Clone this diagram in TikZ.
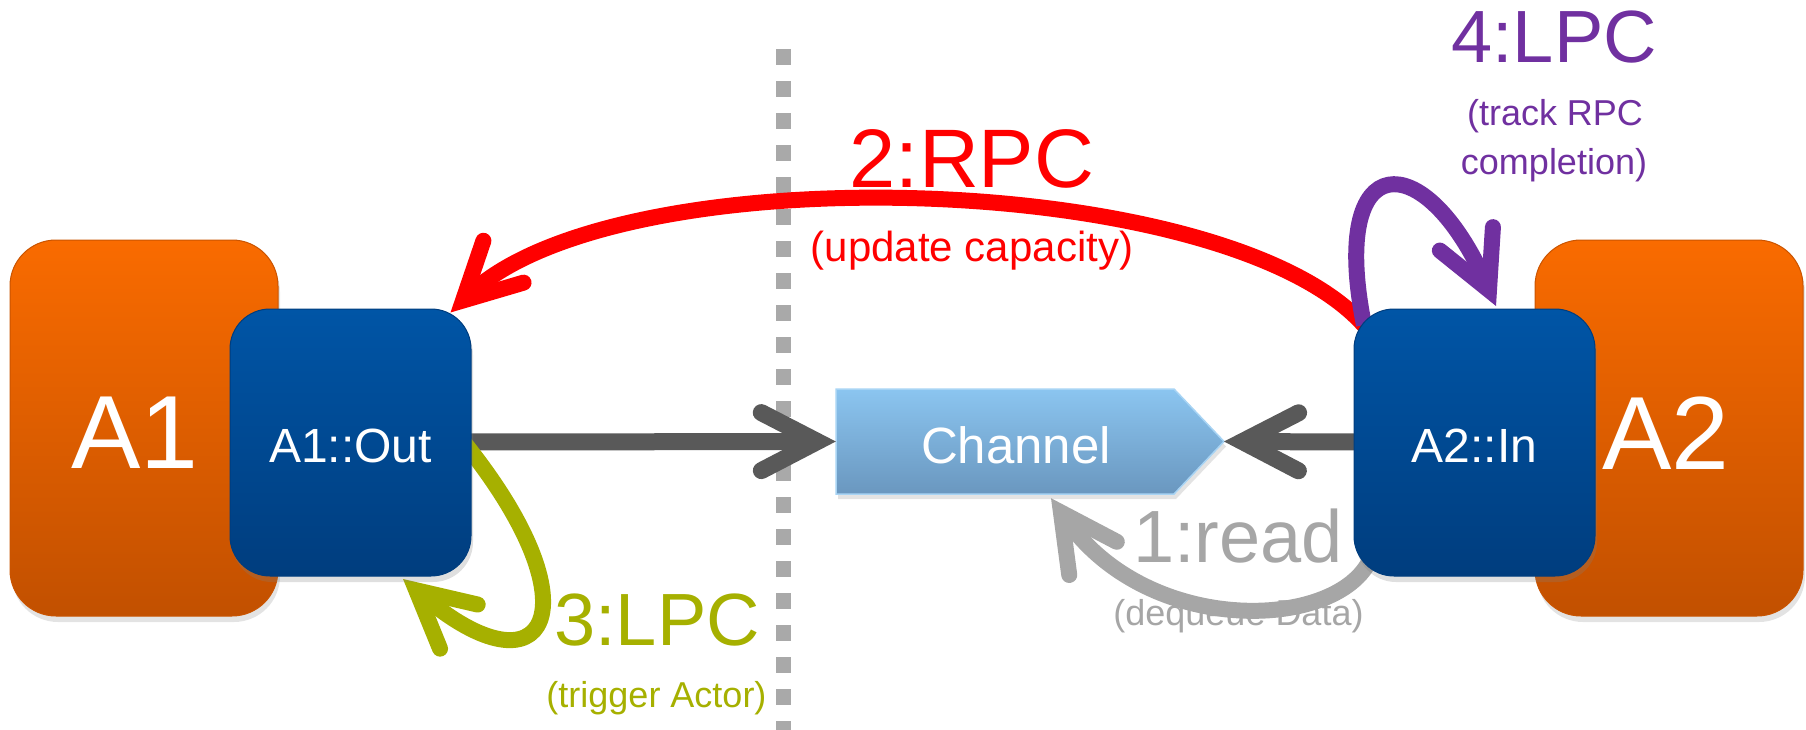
\documentclass[tikz,border=0pt]{standalone}
\usepackage{fontspec}
\setmainfont{Liberation Sans}
\usetikzlibrary{arrows.meta,shadows,calc}
\definecolor{orTop}{HTML}{F96B00}
\definecolor{orBot}{HTML}{C25000}
\definecolor{blTop}{HTML}{0055A6}
\definecolor{blBot}{HTML}{003D7E}
\definecolor{chTop}{HTML}{8BC5F0}
\definecolor{chBot}{HTML}{6A97BF}
\definecolor{chEdge}{HTML}{A8D4F4}
\definecolor{darkgr}{HTML}{595959}
\definecolor{lightgr}{HTML}{A6A6A6}
\definecolor{dashgr}{HTML}{A9A9A9}
\definecolor{rpcred}{HTML}{FF0000}
\definecolor{lpcpurple}{HTML}{7030A0}
\definecolor{lpcolive}{HTML}{A6B000}
\tikzset{
  barb/.tip={Straight Barb[length=56pt, width=58pt, line cap=round, line join=miter]},
  actorbox/.style={rectangle, rounded corners=46pt, minimum width=268pt, minimum height=376pt,
    inner sep=0pt, top color=orTop, bottom color=orBot, draw=orBot!85!orTop, line width=1pt,
    drop shadow={shadow xshift=2pt, shadow yshift=-6pt, opacity=0.22}},
  portbox/.style={rectangle, rounded corners=40pt, minimum width=241pt, minimum height=267pt,
    inner sep=0pt, top color=blTop, bottom color=blBot, draw=blBot, line width=1pt,
    drop shadow={shadow xshift=2pt, shadow yshift=-6pt, opacity=0.25}},
  bigtxt/.style={text=white, font=\fontsize{104}{104}\selectfont, inner sep=0pt, anchor=base},
  midtxt/.style={text=white, font=\fontsize{48}{48}\selectfont, inner sep=0pt, anchor=base},
  steptxt/.style={font=\fontsize{74}{74}\selectfont, inner sep=0pt, anchor=base},
  notetxt/.style={font=\fontsize{36}{36}\selectfont, inner sep=0pt, anchor=base},
  mainarrow/.style={draw=darkgr, line width=17pt, -{barb}},
  callarrow/.style={line width=16pt, -{barb}},
  dashline/.style={draw=dashgr, line width=15pt, dash pattern=on 16pt off 16pt},
}
\begin{document}
\begin{tikzpicture}[x=1pt,y=-1pt]
\useasboundingbox (0,0) rectangle (1806,730);
% actors
\node[actorbox] (A1) at (144,428) {};
\node[actorbox] (A2) at (1669,428) {};
% separator
\coordinate (sepTop) at (783,49);
\coordinate (sepBot) at (783,730);
\draw[dashline] (sepTop) -- (sepBot);
% channel body
\fill[top color=chTop, bottom color=chBot, draw=chEdge, line width=1.5pt,
      drop shadow={shadow xshift=2pt, shadow yshift=-5pt, opacity=0.22}]
  (836,389) -- (1174,389) -- (1224,441.5) -- (1174,494) -- (836,494) -- cycle;
\node[minimum width=338pt, minimum height=105pt, inner sep=0pt] (channel) at (1005,441.5) {};
\coordinate (chtip) at (1224,441.5);
% connector end points hidden under the port boxes
\coordinate (outE) at (468,442);
\coordinate (inW) at (1358,442);
\coordinate (oStart) at (462,440);
\coordinate (oEnd) at (403,579);
\coordinate (rStart) at (1372,335);
\coordinate (pStart) at (1364,325);
\coordinate (pEnd) at (1496,306);
\coordinate (gStart) at (1372,555);
\draw[mainarrow] (outE) -- (channel.west);
\draw[mainarrow] (inW) -- (chtip);
% olive loop 3:LPC
\draw[callarrow, draw=lpcolive] (oStart) .. controls (600,610) and (545,700) .. (oEnd);
\node[portbox] (A1out) at (350.5,442.5) {};
% red RPC, purple LPC, gray read
\draw[callarrow, draw=rpcred] (rStart) .. controls (1250,170) and (620,150) .. ([shift={(-21,4)}]A1out.north east);
\draw[callarrow, draw=lpcpurple] (pStart) .. controls (1328,145) and (1425,145) .. (pEnd);
\draw[callarrow, draw=lightgr] (gStart) .. controls (1345,630) and (1150,640) .. ([shift={(46,4)}]channel.south);
\node[portbox] (A2in) at (1474.5,442.5) {};
% texts
\node[bigtxt] (A1t) at (135,468) {A1};
\node[bigtxt] (A2t) at (1666,469) {A2};
\node[midtxt] (A1outt) at (350.5,462) {A1::Out};
\node[midtxt] (A2int) at (1474.5,462) {A2::In};
\node[text=white, font=\fontsize{51}{51}\selectfont, inner sep=0pt, anchor=base] (cht) at (1016,463) {Channel};
\node[font=\fontsize{83}{83}\selectfont, inner sep=0pt, anchor=base, text=rpcred] (rpc) at (972,188) {2:RPC};
\node[font=\fontsize{42}{42}\selectfont, inner sep=0pt, anchor=base, text=rpcred] (rpcn) at (972,261) {(update capacity)};
\node[steptxt, text=lpcpurple] (lpc4) at (1554,63) {4:LPC};
\node[notetxt, text=lpcpurple] (lpc4a) at (1555,125.5) {(track RPC};
\node[notetxt, text=lpcpurple] (lpc4b) at (1554,175) {completion)};
\node[steptxt, text=lightgr] (rd) at (1238,562) {1:read};
\node[notetxt, text=lightgr] (rdn) at (1238.5,625.5) {(dequeue Data)};
\node[steptxt, text=lpcolive] (lpc3) at (657,645) {3:LPC};
\node[notetxt, text=lpcolive] (lpc3n) at (656.5,707.5) {(trigger Actor)};
\end{tikzpicture}
\end{document}
